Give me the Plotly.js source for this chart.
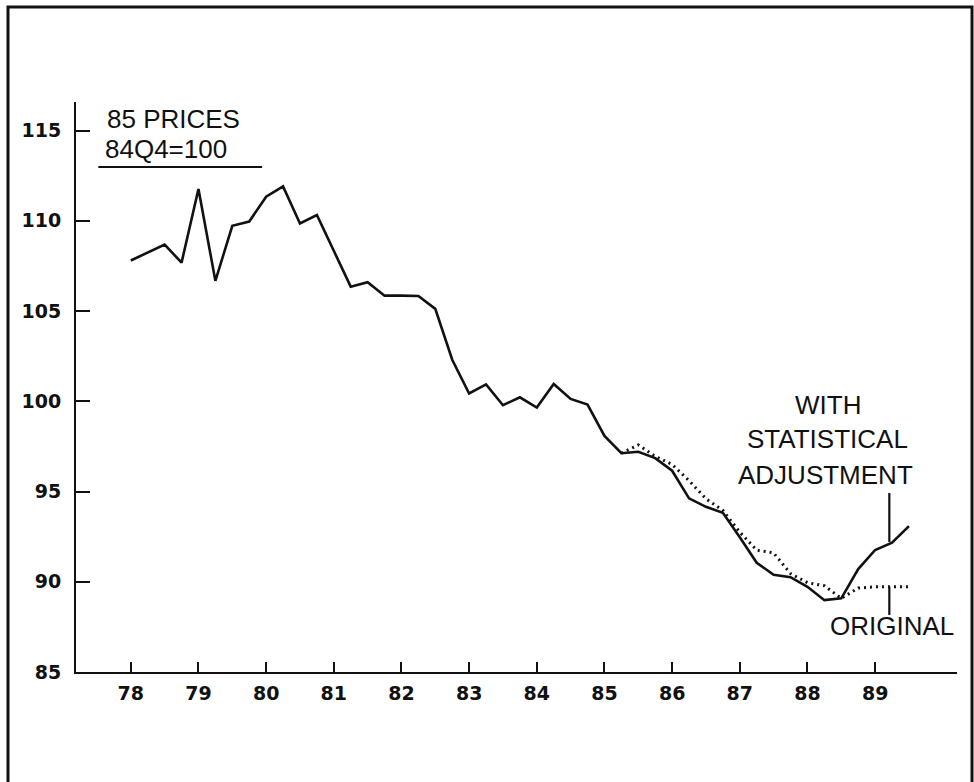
<!DOCTYPE html>
<html>
<head>
<meta charset="utf-8">
<script src="https://cdn.plot.ly/plotly-3.0.1.min.js"></script>
<style>
html,body{margin:0;padding:0;background:#fff;}
#chart{width:974px;height:782px;}
</style>
</head>
<body>
<div id="chart"></div>
<script>
// Quarterly periods (yy, quarter)
const quarters = [
  "78Q1","78Q2","78Q3","78Q4","79Q1","79Q2","79Q3","79Q4",
  "80Q1","80Q2","80Q3","80Q4","81Q1","81Q2","81Q3","81Q4",
  "82Q1","82Q2","82Q3","82Q4","83Q1","83Q2","83Q3","83Q4",
  "84Q1","84Q2","84Q3","84Q4","85Q1","85Q2","85Q3","85Q4",
  "86Q1","86Q2","86Q3","86Q4","87Q1","87Q2","87Q3","87Q4",
  "88Q1","88Q2","88Q3","88Q4","89Q1","89Q2","89Q3"
];
// With statistical adjustment (solid)
const adjusted = [
  107.8,108.25,108.68,107.68,111.76,106.67,109.72,109.96,
  111.33,111.9,109.85,110.32,108.3,106.35,106.6,105.85,
  105.85,105.83,105.12,102.3,100.43,100.93,99.78,100.22,
  99.65,100.96,100.13,99.82,98.08,97.12,97.2,96.85,
  96.15,94.62,94.15,93.82,92.46,91.05,90.39,90.25,
  89.72,88.98,89.08,90.7,91.76,92.16,93.08
];
// Original (dotted)
const originalQuarters = [
  "85Q2","85Q3","85Q4","86Q1","86Q2","86Q3","86Q4",
  "87Q1","87Q2","87Q3","87Q4","88Q1","88Q2","88Q3","88Q4",
  "89Q1","89Q2","89Q3"
];
const original = [
  97.12,97.58,96.95,96.5,95.6,94.6,93.95,
  92.75,91.75,91.6,90.45,89.95,89.78,89.08,89.65,
  89.72,89.72,89.72
];
const yearTicks = [78,79,80,81,82,83,84,85,86,87,88,89];
const yearLabels = ["78","79","80","81","82","83","84","85","86","87","88","89"];
const yTicks = [85,90,95,100,105,110,115];
const yLabels = ["85","90","95","100","105","110","115"];

function qToX(s){ return parseInt(s.slice(0,2),10) + (parseInt(s.slice(3),10)-1)/4; }

const ink = "#111111";
const tickFont = {family:"DejaVu Sans", size:19, color:ink, weight:"bold"};
const annFont = {family:"Liberation Sans, Arial, sans-serif", size:26, color:ink};

const traces = [
  {x: quarters.map(qToX), y: adjusted, mode:"lines", type:"scatter",
   line:{color:ink, width:2.6}, hoverinfo:"skip", showlegend:false},
  {x: originalQuarters.map(qToX), y: original, mode:"lines", type:"scatter",
   line:{color:ink, width:3, dash:"2px,4px"}, hoverinfo:"skip", showlegend:false}
];

const layout = {
  width:974, height:782,
  margin:{l:76, r:17, t:102, b:110},
  paper_bgcolor:"#ffffff", plot_bgcolor:"#ffffff",
  showlegend:false,
  xaxis:{range:[77.19,90.21], tickvals:yearTicks, ticktext:yearLabels,
    ticks:"inside", ticklen:10, tickwidth:2, tickcolor:ink,
    showline:true, linecolor:ink, linewidth:2, showgrid:false, zeroline:false,
    tickfont:tickFont, ticklabelstandoff:3, fixedrange:true},
  yaxis:{range:[85,116.58], tickvals:yTicks, ticktext:yLabels,
    ticks:"inside", ticklen:14, tickwidth:2, tickcolor:ink,
    showline:true, linecolor:ink, linewidth:2, showgrid:false, zeroline:false,
    tickfont:tickFont, ticklabelstandoff:9, fixedrange:true},
  shapes:[
    {type:"line", xref:"x", yref:"y", x0:77.52, x1:79.94, y0:112.98, y1:112.98,
     line:{color:ink, width:2}},
    {type:"line", xref:"x", yref:"y", x0:89.21, x1:89.21, y0:94.92, y1:92.2,
     line:{color:ink, width:2.2}},
    {type:"line", xref:"x", yref:"y", x0:89.21, x1:89.21, y0:89.72, y1:88.16,
     line:{color:ink, width:2.2}},
    {type:"rect", xref:"paper", yref:"paper",
     x0:(8-76)/881, x1:(972-76)/881, y0:(672-800)/570, y1:(672-7)/570,
     line:{color:ink, width:3}, fillcolor:"rgba(0,0,0,0)", layer:"above"}
  ],
  annotations:[
    {x:77.62, y:115.64, xref:"x", yref:"y", text:"85 PRICES", showarrow:false,
     xanchor:"left", yanchor:"middle", font:annFont},
    {x:77.59, y:113.97, xref:"x", yref:"y", text:"84Q4=100", showarrow:false,
     xanchor:"left", yanchor:"middle", font:annFont},
    {x:88.3, y:99.79, xref:"x", yref:"y", text:"WITH", showarrow:false,
     xanchor:"center", yanchor:"middle", font:annFont},
    {x:88.3, y:97.91, xref:"x", yref:"y", text:"STATISTICAL", showarrow:false,
     xanchor:"center", yanchor:"middle", font:annFont},
    {x:88.26, y:95.91, xref:"x", yref:"y", text:"ADJUSTMENT", showarrow:false,
     xanchor:"center", yanchor:"middle", font:annFont},
    {x:89.25, y:87.55, xref:"x", yref:"y", text:"ORIGINAL", showarrow:false,
     xanchor:"center", yanchor:"middle", font:annFont}
  ]
};

Plotly.newPlot("chart", traces, layout, {staticPlot:true, displayModeBar:false});
</script>
</body>
</html>
